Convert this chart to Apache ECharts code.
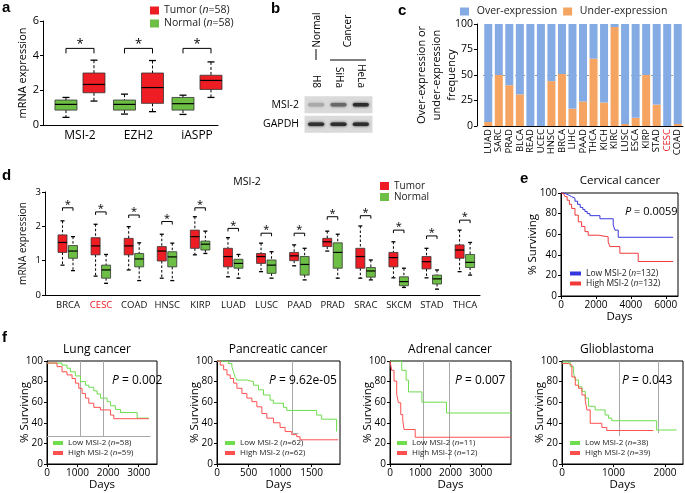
<!DOCTYPE html>
<html><head><meta charset="utf-8">
<script src="https://cdn.jsdelivr.net/npm/echarts@6/dist/echarts.min.js"></script>
<style>html,body{margin:0;padding:0;background:#fff}#c{width:685px;height:493px}</style>
</head><body><div id="c"></div>
<script>
// ================= DATA =================
// Panel a  (box: [low, q1, median, q3, high])
const aCats = ['MSI-2', 'EZH2', 'iASPP'];
const aNormal = [[0.44, 0.86, 1.19, 1.44, 1.59], [0.63, 0.86, 1.19, 1.44, 1.78], [0.61, 0.86, 1.23, 1.59, 1.72]];
const aTumor  = [[1.38, 1.86, 2.34, 3.00, 3.74], [0.77, 1.25, 2.16, 3.00, 3.72], [1.59, 2.05, 2.57, 2.87, 3.64]];
const aSig = [4.42, 4.42, 4.42];

// Panel b  (band intensity, 0..1)
const bLanes = ['H8', 'SiHa', 'HeLa'];
const bRows = ['MSI-2', 'GAPDH'];
const bMSI2 = [0.25, 0.6, 0.92];
const bGAPDH = [0.9, 0.92, 0.92];

// Panel c
const cCats = ['LUAD','SARC','PRAD','BLCA','READ','UCEC','HNSC','BRCA','LIHC','PAAD','THCA','KICH','KIRC','LUSC','ESCA','KIRP','STAD','CESC','COAD'];
const cUnder = [4, 50, 40, 31, 0, 0, 44, 51, 17, 24, 66, 23, 97, 2, 8, 50, 21, 0, 2];
const cOver  = [96, 50, 60, 69, 100, 100, 56, 49, 83, 76, 34, 77, 3, 98, 92, 50, 79, 100, 98];

// Panel d
const dCats = ['BRCA','CESC','COAD','HNSC','KIRP','LUAD','LUSC','PAAD','PRAD','SRAC','SKCM','STAD','THCA'];
const dTumor = [
  [0.87,1.24,1.53,1.75,2.16],[0.55,1.17,1.43,1.67,2.06],[0.73,1.17,1.43,1.65,1.99],[0.49,0.99,1.28,1.41,1.77],
  [1.17,1.36,1.70,1.89,2.28],[0.53,0.82,1.12,1.36,1.67],[0.68,0.92,1.12,1.21,1.51],[0.85,1.00,1.14,1.24,1.46],
  [1.28,1.41,1.55,1.65,1.86],[0.49,0.78,1.12,1.36,2.01],[0.50,0.82,1.09,1.24,1.55],[0.50,0.76,0.97,1.12,1.36],
  [0.68,1.07,1.31,1.46,1.89]];
const dNormal = [
  [0.71,1.07,1.28,1.44,1.70],[0.34,0.49,0.73,0.87,1.18],[0.42,0.82,1.05,1.21,1.52],[0.42,0.82,1.11,1.26,1.51],
  [1.21,1.31,1.48,1.57,1.86],[0.49,0.78,0.92,1.04,1.18],[0.49,0.63,0.87,1.02,1.26],[0.44,0.58,0.89,1.12,1.36],
  [0.49,0.78,1.24,1.52,1.77],[0.44,0.52,0.70,0.80,1.02],[0.22,0.27,0.39,0.53,0.78],[0.17,0.32,0.47,0.58,0.73],
  [0.58,0.80,0.95,1.18,1.53]];
const dSig = [2.54, 2.42, 2.33, 2.14, 2.54, 1.94, 1.80, 1.80, 2.28, 2.31, 1.89, 1.72, 2.18];

// Panel e  ([days, % surviving])
const cervLow = [[0,100],[150,99],[300,98],[450,96.5],[600,95],[800,92],[950,89],[1100,86],[1250,84],[1371,82],[1500,80],[1657,78],[2229,75],[2990,69],[3086,64],[3276,57],[6420,57]];
const cervHigh = [[0,100],[120,99],[228,96.5],[350,93],[480,89],[610,85],[800,78.5],[990,72],[1180,67.5],[1370,62.5],[1560,59],[2130,57.5],[2700,52.5],[2800,48],[3370,41.5],[4420,33.5],[6420,33.5]];

// Panel f
const lungLow = [[0,98],[490,96],[655,93],[765,89.5],[930,85.5],[1094,80],[1258,76.5],[1367,74.5],[1531,71],[1640,68],[1750,64],[1968,60.5],[2077,56.5],[2240,53],[2405,50],[2950,44.5],[3335,44.5]];
const lungHigh = [[0,98],[328,94.5],[492,89.5],[655,86.5],[820,83],[930,78.5],[1040,73.5],[1148,68.5],[1258,64],[1367,59],[1531,55],[1750,52.5],[2077,47.5],[2186,44],[3335,44]];
const pancLow = [[0,100],[52,99.5],[183,97.5],[236,94.5],[263,89.5],[289,84],[316,81.5],[474,80],[579,76.5],[658,72],[737,67],[842,62],[895,59],[1053,55],[1106,52],[1580,47.5],[1659,43.5],[1896,31.5]];
const pancHigh = [[0,100],[52,96],[105,91.5],[158,86.5],[210,83],[263,78.5],[316,73.5],[395,68.5],[474,64],[553,60.5],[632,55.5],[711,49],[790,44.5],[895,40],[1000,35.5],[1080,31.5],[1185,28.5],[1264,26.5],[1316,23.5],[1920,23.5]];
const adrLow = [[0,100],[389,91],[533,81.5],[611,70],[1055,60],[1867,49.5],[4000,49.5]];
const adrHigh = [[0,100],[55,91],[133,80.5],[222,67.5],[278,59.5],[355,48],[422,42],[466,33.5],[833,26],[4000,26]];
const glioLow = [[0,99],[97,98.5],[161,94.5],[226,88],[258,81.5],[322,75],[387,70.5],[451,64],[516,56],[645,52.5],[838,47.5],[903,44.5],[967,42],[1838,33],[2225,33]];
const glioHigh = [[0,97.5],[129,96],[193,84.5],[258,76.5],[322,73.5],[387,67],[451,62],[484,52.5],[548,39.5],[774,35.5],[870,32.5],[1774,32.5]];

// ================= STYLE / HELPERS =================
const FONT = 'Open Sans';
const RED = '#EE1D23', GREEN = '#6CBE45';
const BLUE_C = '#84ABE3', ORANGE_C = '#F5A462';
const KM_GREEN = '#6EDD4E', KM_RED = '#FF5050';
const BLK = '#000';

function boxRender(offPx, wPx, capPx, color, dash) {
  return function (params, api) {
    const i = api.value(0);
    const lo = api.coord([i, api.value(1)]), q1 = api.coord([i, api.value(2)]),
          md = api.coord([i, api.value(3)]), q3 = api.coord([i, api.value(4)]), hi = api.coord([i, api.value(5)]);
    const cx = lo[0] + offPx;
    const ds = {stroke: BLK, lineWidth: 1, lineDash: dash};
    const cs = {stroke: BLK, lineWidth: 1.3};
    return {type: 'group', children: [
      {type: 'line', shape: {x1: cx, y1: hi[1], x2: cx, y2: q3[1]}, style: ds},
      {type: 'line', shape: {x1: cx, y1: q1[1], x2: cx, y2: lo[1]}, style: ds},
      {type: 'line', shape: {x1: cx - capPx / 2, y1: hi[1], x2: cx + capPx / 2, y2: hi[1]}, style: cs},
      {type: 'line', shape: {x1: cx - capPx / 2, y1: lo[1], x2: cx + capPx / 2, y2: lo[1]}, style: cs},
      {type: 'rect', shape: {x: cx - wPx / 2, y: q3[1], width: wPx, height: q1[1] - q3[1]}, style: {fill: color, stroke: '#333', lineWidth: 0.8}},
      {type: 'line', shape: {x1: cx - wPx / 2, y1: md[1], x2: cx + wPx / 2, y2: md[1]}, style: {stroke: BLK, lineWidth: 1.2}}
    ]};
  };
}
function bracketRender(offL, offR, leg, starGap, fs) {
  return function (params, api) {
    const p = api.coord([api.value(0), api.value(1)]);
    const x1 = p[0] + offL, x2 = p[0] + offR, y = p[1];
    return {type: 'group', children: [
      {type: 'polyline', shape: {points: [[x1, y + leg], [x1, y], [x2, y], [x2, y + leg]]}, style: {stroke: BLK, lineWidth: 1, fill: null}},
      {type: 'text', style: {text: '*', x: (x1 + x2) / 2, y: y - starGap, align: 'center', verticalAlign: 'middle', fontSize: fs, fontFamily: FONT, fill: BLK}}
    ]};
  };
}
function blotRender(params, api) {
  const i = api.value(0), j = api.value(1), v = api.value(2);
  const c = api.coord([i, j]);
  const sz = api.size([1, 1]);
  const g = Math.round(215 - 185 * v);
  const col = 'rgb(' + g + ',' + g + ',' + g + ')';
  return {type: 'group', children: [
    {type: 'rect', shape: {x: c[0] - sz[0] / 2 - 0.5, y: c[1] - 8.5, width: sz[0] + 1, height: 17}, style: {fill: '#dadada'}},
    {type: 'rect', shape: {x: c[0] - sz[0] * 0.36, y: c[1] - 1.8, width: sz[0] * 0.72, height: 3.6, r: 1.8},
     style: {fill: col, shadowBlur: 3, shadowColor: col}}
  ]};
}
const catFmt = (cats) => (v) => (Number.isInteger(v) && cats[v] !== undefined) ? cats[v] : '';
const redFmt = (v) => v === 'CESC' ? '{r|CESC}' : v;
const plainNum = (v) => String(Math.round(v));
function lineAx(extra) {
  return Object.assign({
    nameMoveOverlap: false,
    axisLine: {show: true, onZero: false, lineStyle: {color: BLK, width: 1}},
    axisTick: {show: true, length: 3, lineStyle: {color: BLK}},
    splitLine: {show: false},
  }, extra);
}
function kmX(gi, max, interval, fs) {
  return lineAx({type: 'value', gridIndex: gi, min: 0, max: max, interval: interval,
    name: 'Days', nameLocation: 'middle', nameGap: 15,
    nameTextStyle: {fontSize: fs + 1.5, color: BLK, fontFamily: FONT},
    axisLabel: {fontSize: fs, color: BLK, margin: 4, fontFamily: FONT, showMaxLabel: false, formatter: plainNum}});
}
function kmY(gi, fs, gap) {
  return lineAx({type: 'value', gridIndex: gi, min: 0, max: 100, interval: 20,
    name: '% Surviving', nameLocation: 'middle', nameGap: gap,
    nameTextStyle: {fontSize: fs + 1.5, color: BLK, fontFamily: FONT},
    axisLabel: {fontSize: fs, color: BLK, margin: 4, fontFamily: FONT, formatter: plainNum}});
}
function kmLine(name, data, color, gi, markLines) {
  const s = {type: 'line', name: name, data: data, step: 'end', showSymbol: false, symbol: 'none',
    xAxisIndex: gi, yAxisIndex: gi, lineStyle: {color: color, width: 1}, itemStyle: {color: color},
    animation: false, z: 3};
  if (markLines) {
    s.markLine = {silent: true, symbol: ['none', 'none'], label: {show: false}, animation: false, z: 1,
      lineStyle: {color: '#a8a8a8', width: 1, type: 'solid'}, data: markLines};
  }
  return s;
}
const vLine = (x, y0, y1) => [{coord: [x, y0]}, {coord: [x, y1]}];
const italN = (n) => n.replace('(n=', '({i|n}=');
function kmLegend(names, left, top, fs, gap, iw) {
  return {data: names, left: left, top: top, orient: 'vertical', padding: 0, itemGap: gap,
    itemWidth: iw, itemHeight: 4, icon: 'rect', selectedMode: false, formatter: italN,
    textStyle: {fontSize: fs, color: '#222', fontFamily: FONT, rich: {i: {fontStyle: 'italic', fontSize: fs, fontFamily: FONT, color: '#222'}}}};
}
function pTitle(txt, left, top, fs) {
  return {text: '{i|P} = ' + txt, left: left, top: top, padding: 0,
    textStyle: {fontSize: fs, fontWeight: 'normal', color: BLK, fontFamily: FONT,
      rich: {i: {fontStyle: 'italic', fontSize: fs, fontFamily: FONT, color: BLK}}}};
}
function cTitle(txt, cx, top, fs) {
  return {text: txt, left: cx, top: top, textAlign: 'center', padding: 0,
    textStyle: {fontSize: fs, fontWeight: 'normal', color: BLK, fontFamily: FONT}};
}
function letter(t, left, top) {
  return {text: t, left: left, top: top, padding: 0,
    textStyle: {fontSize: 15, fontWeight: 'bold', color: BLK, fontFamily: 'Liberation Sans'}};
}

// ================= OPTION =================
const grids = [
  {left: 43, top: 21, width: 175, height: 104},            // 0 a
  {left: 305, top: 95, width: 67, height: 39},             // 1 b
  {left: 483, top: 24, width: 200, height: 102},           // 2 c
  {left: 45, top: 192, width: 435, height: 103},           // 3 d
  {left: 561, top: 193, width: 117, height: 103, show: true, borderColor: BLK, borderWidth: 1}, // 4 e
  {left: 47, top: 361, width: 110, height: 103, show: true, borderColor: BLK, borderWidth: 1},  // 5 lung
  {left: 217, top: 361, width: 123, height: 103, show: true, borderColor: BLK, borderWidth: 1}, // 6 panc
  {left: 390, top: 361, width: 121, height: 103, show: true, borderColor: BLK, borderWidth: 1}, // 7 adr
  {left: 562, top: 361, width: 121, height: 103, show: true, borderColor: BLK, borderWidth: 1}  // 8 glio
];

const xAxes = [
  lineAx({type: 'value', gridIndex: 0, min: -0.632, max: 2.359, minInterval: 1, maxInterval: 1,
    axisTick: {show: false}, axisLabel: {formatter: catFmt(aCats), fontSize: 12, color: BLK, margin: 5, fontFamily: FONT}}),
  {type: 'category', gridIndex: 1, data: bLanes, position: 'top', axisLine: {show: false}, axisTick: {show: false},
    axisLabel: {rotate: 90, fontSize: 10, color: BLK, margin: 7, fontFamily: FONT}},
  lineAx({type: 'category', gridIndex: 2, data: cCats, boundaryGap: true,
    axisTick: {show: false}, axisLabel: {formatter: redFmt, rotate: 90, interval: 0, fontSize: 9.5, color: BLK, margin: 3, fontFamily: FONT,
      rich: {r: {color: '#E8191F', fontSize: 9.5, fontFamily: FONT}}}}),
  lineAx({type: 'value', gridIndex: 3, min: -0.695, max: 12.45, minInterval: 1, maxInterval: 1,
    axisTick: {show: false}, axisLabel: {formatter: (v) => redFmt(catFmt(dCats)(v)), fontSize: 9.5, color: '#111', margin: 5, fontFamily: FONT,
      rich: {r: {color: '#E8191F', fontSize: 9.5, fontFamily: FONT}}}}),
  kmX(4, 6700, 2000, 10),
  kmX(5, 3600, 1000, 10),
  kmX(6, 1950, 500, 10),
  kmX(7, 4000, 1000, 10),
  kmX(8, 2350, 1000, 10)
];
const yAxes = [
  lineAx({type: 'value', gridIndex: 0, min: 0, max: 6, interval: 2, name: 'mRNA expression', nameLocation: 'middle', nameGap: 15,
    nameTextStyle: {fontSize: 11, color: BLK, fontFamily: FONT}, axisLabel: {fontSize: 11, color: BLK, margin: 4, fontFamily: FONT}}),
  {type: 'category', gridIndex: 1, data: bRows, inverse: true, axisLine: {show: false}, axisTick: {show: false},
    axisLabel: {fontSize: 10.5, color: BLK, margin: 6, fontFamily: FONT}},
  lineAx({type: 'value', gridIndex: 2, min: 0, max: 100, interval: 25, offset: 6, name: 'Over-expression or\nunder-expression\nfrequency',
    nameLocation: 'middle', nameGap: 18, nameTextStyle: {fontSize: 11, lineHeight: 15, color: BLK, fontFamily: FONT},
    axisLabel: {fontSize: 10.5, color: BLK, margin: 4, fontFamily: FONT}}),
  lineAx({type: 'value', gridIndex: 3, min: 0, max: 3, interval: 1, name: 'mRNA expression', nameLocation: 'middle', nameGap: 17,
    nameTextStyle: {fontSize: 10, color: '#111', fontFamily: FONT}, axisLabel: {fontSize: 9.5, color: BLK, margin: 4, fontFamily: FONT}}),
  kmY(4, 10, 22),
  kmY(5, 10, 16),
  kmY(6, 10, 16),
  kmY(7, 10, 16),
  kmY(8, 10, 16)
];

const series = [
  {type: 'custom', name: 'Normal', xAxisIndex: 0, yAxisIndex: 0, itemStyle: {color: GREEN},
   renderItem: boxRender(-14, 22, 7, GREEN, [3, 2]), data: aNormal.map((b, i) => [i].concat(b)), encode: {x: 0, y: [1, 5]}},
  {type: 'custom', name: 'Tumor', xAxisIndex: 0, yAxisIndex: 0, itemStyle: {color: RED},
   renderItem: boxRender(14, 22, 7, RED, [3, 2]), data: aTumor.map((b, i) => [i].concat(b)), encode: {x: 0, y: [1, 5]}},
  {type: 'custom', name: 'sigA', xAxisIndex: 0, yAxisIndex: 0, renderItem: bracketRender(-14, 14, 5, 4, 13),
   data: aSig.map((v, i) => [i, v]), encode: {x: 0, y: 1}},
  {type: 'custom', name: 'blot', xAxisIndex: 1, yAxisIndex: 1, renderItem: blotRender,
   data: bMSI2.map((v, i) => [i, 0, v]).concat(bGAPDH.map((v, i) => [i, 1, v])), encode: {x: 0, y: 1}},
  {type: 'bar', name: 'Under-expression', xAxisIndex: 2, yAxisIndex: 2, stack: 'c', barWidth: 8,
   itemStyle: {color: ORANGE_C}, data: cUnder, animation: false,
   markLine: {silent: true, symbol: ['none', 'none'], label: {show: false}, z: 1, animation: false,
     lineStyle: {color: '#999', type: [2, 2], width: 1}, data: [{yAxis: 50}]}},
  {type: 'bar', name: 'Over-expression', xAxisIndex: 2, yAxisIndex: 2, stack: 'c', barWidth: 8,
   itemStyle: {color: BLUE_C}, data: cOver, animation: false},
  {type: 'custom', name: 'Tumor', xAxisIndex: 3, yAxisIndex: 3, itemStyle: {color: RED},
   renderItem: boxRender(-5.5, 9, 4, RED, [2.5, 2]), data: dTumor.map((b, i) => [i].concat(b)), encode: {x: 0, y: [1, 5]}},
  {type: 'custom', name: 'Normal', xAxisIndex: 3, yAxisIndex: 3, itemStyle: {color: GREEN},
   renderItem: boxRender(5, 9, 4, GREEN, [2.5, 2]), data: dNormal.map((b, i) => [i].concat(b)), encode: {x: 0, y: [1, 5]}},
  {type: 'custom', name: 'sigD', xAxisIndex: 3, yAxisIndex: 3, renderItem: bracketRender(-5.5, 5, 3, 3, 11),
   data: dSig.map((v, i) => [i, v]), encode: {x: 0, y: 1}},
  kmLine('Low MSI-2 (n=132)', cervLow, '#3737DF', 4),
  kmLine('High MSI-2 (n=132)', cervHigh, '#F03A3A', 4),
  kmLine('Low MSI-2 (n=58)', lungLow, KM_GREEN, 5, [vLine(1094, 100, 27), vLine(1837, 100, 27), [{coord: [0, 27]}, {coord: [3388, 27]}]]),
  kmLine('High MSI-2 (n=59)', lungHigh, KM_RED, 5),
  kmLine('Low MSI-2 (n=62)', pancLow, KM_GREEN, 6, [vLine(1195, 100, 30), [{coord: [1200, 30]}, {coord: [1290, 30]}]]),
  kmLine('High MSI-2 (n=62)', pancHigh, KM_RED, 6),
  kmLine('Low MSI-2 (n=11)', adrLow, KM_GREEN, 7, [vLine(1110, 100, 4), vLine(1944, 100, 4)]),
  kmLine('High MSI-2 (n=12)', adrHigh, KM_RED, 7),
  kmLine('Low MSI-2 (n=38)', glioLow, KM_GREEN, 8, [vLine(1115, 100, 27), vLine(1870, 100, 30)]),
  kmLine('High MSI-2 (n=39)', glioHigh, KM_RED, 8)
];

const legends = [
  {data: ['Tumor', 'Normal'], left: 150, top: 5, orient: 'vertical', padding: 0, itemGap: 2, itemWidth: 9, itemHeight: 8,
   icon: 'rect', selectedMode: false, formatter: (n) => n + ' ({i|n}=58)',
   textStyle: {fontSize: 10.5, color: '#222', fontFamily: FONT, rich: {i: {fontStyle: 'italic', fontSize: 10.5, fontFamily: FONT, color: '#222'}}}},
  {data: ['Over-expression', 'Under-expression'], left: 460, top: 6, orient: 'horizontal', padding: 0, itemGap: 6,
   itemWidth: 9, itemHeight: 8, icon: 'rect', selectedMode: false, formatter: (n) => ' ' + n,
   textStyle: {fontSize: 10.5, color: '#222', fontFamily: FONT}},
  {data: ['Tumor', 'Normal'], left: 380, top: 181, orient: 'vertical', padding: 0, itemGap: 1, itemWidth: 9, itemHeight: 8,
   icon: 'rect', selectedMode: false, textStyle: {fontSize: 10, color: '#222', fontFamily: FONT}},
  kmLegend(['Low MSI-2 (n=132)', 'High MSI-2 (n=132)'], 570, 269, 8.5, 1, 11),
  kmLegend(['Low MSI-2 (n=58)', 'High MSI-2 (n=59)'], 53, 439, 8, 2, 10),
  kmLegend(['Low MSI-2 (n=62)', 'High MSI-2 (n=62)'], 225, 439, 8, 2, 10),
  kmLegend(['Low MSI-2 (n=11)', 'High MSI-2 (n=12)'], 397, 439, 8, 2, 10),
  kmLegend(['Low MSI-2 (n=38)', 'High MSI-2 (n=39)'], 570, 439, 8, 2, 10)
];

const titles = [
  letter('a', 2, 0), letter('b', 271, 1), letter('c', 398, 3), letter('d', 2, 168), letter('e', 520, 171), letter('f', 2, 330),
  cTitle('MSI-2', 247, 177, 10.5),
  cTitle('Cervical cancer', 620, 175, 11.5),
  cTitle('Lung cancer', 97, 344, 12), cTitle('Pancreatic cancer', 278, 344, 12),
  cTitle('Adrenal cancer', 450, 344, 12), cTitle('Glioblastoma', 617, 344, 12),
  pTitle('0.0059', 625, 206, 11),
  pTitle('0.002', 112, 375, 12), pTitle('9.62e-05', 269, 375, 12), pTitle('0.007', 455, 375, 12), pTitle('0.043', 622, 375, 12)
];

const graphic = [
  {type: 'text', x: 317, y: 30, rotation: Math.PI / 2, style: {text: 'Normal', fontSize: 10, fontFamily: FONT, fill: BLK, align: 'center', verticalAlign: 'middle'}},
  {type: 'text', x: 348, y: 31, rotation: Math.PI / 2, style: {text: 'Cancer', fontSize: 10, fontFamily: FONT, fill: BLK, align: 'center', verticalAlign: 'middle'}},
  {type: 'line', shape: {x1: 316, y1: 49, x2: 316, y2: 60}, style: {stroke: BLK, lineWidth: 1}},
  {type: 'polyline', shape: {points: [[330, 60], [366, 60]]}, style: {stroke: BLK, lineWidth: 1, fill: null}}
];

const chart = echarts.init(document.getElementById('c'), null, {renderer: 'canvas'});
chart.setOption({
  animation: false,
  backgroundColor: '#fff',
  textStyle: {fontFamily: FONT},
  title: titles,
  legend: legends,
  grid: grids,
  xAxis: xAxes,
  yAxis: yAxes,
  series: series,
  graphic: graphic
});
</script></body></html>
